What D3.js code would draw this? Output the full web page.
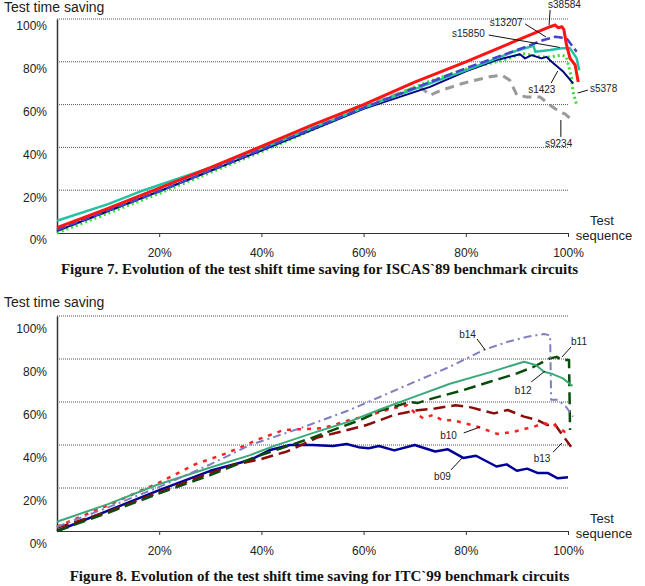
<!DOCTYPE html>
<html>
<head>
<meta charset="utf-8">
<script src="https://cdnjs.cloudflare.com/ajax/libs/d3/7.8.5/d3.min.js"></script>
<style>
  body { margin: 0; background: #fff; }
  text { font-family: Arial, "Liberation Sans", sans-serif; fill: #222; }
</style>
</head>
<body>
<div id="chart"></div>
<script>
var xTicks = [20, 40, 60, 80, 100]
var yTicks = [0, 20, 40, 60, 80, 100]

// Figure 7 - ISCAS'89 circuits, [test sequence %, saving %]
var s38584 = [[0,2.5],[10,11.5],[20,21],[30,30.5],[40,40.5],[50,50.5],[60,60],[70,70.5],[80,80],[90,90],[96.5,96.4],[97.5,97.2],[98.1,95.9],[98.8,96.4],[99.2,95],[99.7,88],[100.4,81.6],[101.4,78.5],[102,70.6]]
var s13207 = [[0,1.5],[20,19.5],[40,39],[60,58.5],[73,70.5],[80,77],[90,85.5],[92.6,87.8],[95.2,90.2],[97.5,91.7],[99.7,91],[100.7,87.8],[101.7,84.7]]
var s15850 = [[0,5.7],[10,13.5],[17,20],[30,30.5],[40,39.5],[50,49],[60,58.5],[73,69.9],[80,76],[89.3,84.7],[92.6,87],[93.2,87.8],[93.6,84.7],[96.5,85.5],[98.8,86.3],[100.4,86.3],[101.7,81.6],[102.2,76.1]]
var s1423 = [[0,1],[20,19.5],[40,38.5],[60,58],[73,68.3],[80,75.5],[86,80.8],[90.6,83.5],[91.6,81.6],[92.9,83.1],[94.8,81.6],[95.8,82.3],[96.8,80],[99.1,75.3],[101,69.9]]
var s5378 = [[0,0],[20,18.5],[40,38],[60,58.5],[73,71],[80,76.5],[87.3,80.8],[91.2,83.9],[94.5,82.3],[96.5,82.3],[98.8,83.1],[99.7,82.3],[100.7,72.2],[101,65.9],[101.7,59.7]]
var s9234 = [[0,1],[20,19.5],[40,39],[60,59],[70,68],[71.5,67.5],[73,64.3],[75,66.5],[79.5,70],[84.7,73],[87,73.8],[88.6,71.4],[90,64.4],[92,63.6],[94.5,63.6],[96.5,59.7],[98.4,56.6],[99.5,55.5],[100.4,53.5]]

// Figure 8 - ITC'99 circuits
var b09 = [[0,0],[10,9.5],[20,19],[30,28],[37.8,33],[41.7,37.7],[45.6,40],[50,40],[54,39.5],[56.7,40.5],[59,39],[61,38.5],[63,39.5],[66,37.5],[70,40],[74,37],[76.5,38],[79.5,34],[82,35],[86,30],[88,31],[90,28],[92,29],[94,27],[96,27],[98,24.5],[100,25]]
var b10 = [[0,2],[10,12],[20,22.5],[27,31],[33,36],[37,40],[39,42.3],[44.4,47],[52,47.8],[57.3,51.6],[60.6,53.5],[65.8,57.1],[68.5,58.5],[70,55],[71.7,52.4],[73.6,54],[75.3,51.6],[77.5,51.5],[80,50],[82.3,48.5],[86.2,45.1],[89.4,46.2],[93.3,48.5],[95.3,50.1],[97.3,49.3],[99.3,46.2],[100.2,47]]
var b11 = [[0,0],[10,8.5],[20,17.5],[30,26],[39,34.6],[49.5,43],[59.3,51.6],[63.3,56],[69.1,60],[70.5,59.5],[73.7,61.8],[79.6,65.6],[84.7,69.4],[90,73.3],[93.3,76.4],[96.5,80.3],[97.8,81],[98.8,79.5],[100.2,79.5],[100.4,47]]
var b12 = [[0,4.3],[10,12.5],[19.5,21.4],[30,29.5],[37.8,35.3],[42.4,39.5],[50,45.5],[57.3,51],[63.2,56.5],[70,62.5],[76.9,68.5],[85,74],[89,77],[91.4,78.7],[93.7,77.2],[95.3,74.1],[97,73],[99,71],[100.9,67.4]]
var b13 = [[0,1.5],[10,9],[20,18],[30,27],[35,31],[40,33.5],[45,37],[51,43.5],[56,46.5],[60.6,49.3],[66,54],[70,56],[74,57],[78,58.5],[81,57.5],[85.5,54.7],[88.2,56.3],[91.4,53.2],[94,51.6],[96,49.3],[97.3,50.1],[98.5,46],[100.6,39.2]]
var b14 = [[0,2],[10,11],[20,20.5],[30,31],[37.8,40],[47.6,47.8],[57.3,56.3],[67.1,66.4],[76.9,76.4],[83.5,84.2],[88.2,88],[92.1,90.4],[95.3,91.6],[96.5,91],[96.7,61],[98,61],[99.6,57.8],[101,53.2]]

// label text position and leader line, all in data units
var notes1 = [
  {t: "s38584", x: 96.1, y: 105.1, l: [96.5, 104.2, 96.3, 97.2]},
  {t: "s13207", x: 84.7, y: 96.7, l: [91.6, 97.7, 95.7, 91.6]},
  {t: "s15850", x: 77.3, y: 91.4, l: [84.5, 92.5, 98.4, 86.7]},
  {t: "s1423", x: 92.2, y: 65.2, l: [96.7, 70.1, 98, 75.7]},
  {t: "s5378", x: 104.3, y: 66.1, l: [103.9, 66.8, 101.9, 65.4]},
  {t: "s9234", x: 95.5, y: 40, l: [98.6, 52.8, 98.6, 44.9]}
]
var notes2 = [
  {t: "b14", x: 78.7, y: 90, l: [82.2, 89.3, 83.8, 84.2]},
  {t: "b11", x: 100.6, y: 86.7, l: [100.6, 85.6, 98.8, 80.9]},
  {t: "b12", x: 89.6, y: 63.5, l: [92.8, 69.3, 95.5, 74.4]},
  {t: "b10", x: 75, y: 43, l: [79.6, 45.6, 82.8, 48.4]},
  {t: "b13", x: 93.3, y: 31.9, l: [97.1, 36.7, 98.8, 40.9]},
  {t: "b09", x: 73.8, y: 23.5, l: [77.1, 28.4, 79.3, 34]}
]

var series1 = [
  {d: s9234, c: "#9a9a9a", w: 3, dash: "9,6"},
  {d: s5378, c: "#33e033", w: 3, dash: "2,3"},
  {d: s1423, c: "#000080", w: 2},
  {d: s15850, c: "#22c2a2", w: 2.5},
  {d: s13207, c: "#4444cc", w: 2.5, dash: "9,4"},
  {d: s38584, c: "#ff1414", w: 3}
]
var series2 = [
  {d: b09, c: "#000099", w: 2.5},
  {d: b13, c: "#8b0a0a", w: 2.5, dash: "12,6"},
  {d: b10, c: "#ff2020", w: 2.5, dash: "4,6"},
  {d: b11, c: "#0a4a0a", w: 2.5, dash: "12,6"},
  {d: b12, c: "#3aaa78", w: 2},
  {d: b14, c: "#7f7fc0", w: 2, dash: "8,4,2,4"}
]

var svg = d3.select("#chart")
  .append("svg")
    .attr("width", 645)
    .attr("height", 586)

drawChart(svg.append("g"), 19, 233, 12, series1, notes1, 7,
  "Figure 7. Evolution of the test shift time saving for ISCAS`89 benchmark circuits", 274)
drawChart(svg.append("g"), 316, 531, 307, series2, notes2, 13,
  "Figure 8. Evolution of the test shift time saving for ITC`99 benchmark circuits", 581)

function drawChart(g, top, bottom, titleY, series, notes, labelShift, caption, captionY) {
  var x = d3.scaleLinear().domain([0, 100]).range([57, 568])
  var y = d3.scaleLinear().domain([0, 100]).range([bottom, top])

  g.append("text")
    .attr("x", 4).attr("y", titleY)
    .style("font-size", "14px")
    .text("Test time saving")

  // dotted gridlines
  g.append("g")
    .selectAll("line")
    .data(yTicks.slice(1))
    .enter()
    .append("line")
      .attr("x1", x(0)).attr("x2", x(100))
      .attr("y1", function (d) { return y(d) })
      .attr("y2", function (d) { return y(d) })
      .attr("stroke", "#555")
      .attr("stroke-dasharray", "1,1")

  var xa = g.append("g")
    .attr("transform", "translate(0," + bottom + ")")
    .call(d3.axisBottom(x).tickValues(xTicks).tickFormat(function (d) { return d + "%" })
      .tickSize(4).tickSizeOuter(0).tickPadding(11))
  xa.attr("font-family", null).attr("font-size", 12).attr("color", "#333")
  xa.select(".domain").attr("stroke-width", 1.2)

  var ya = g.append("g")
    .attr("transform", "translate(" + x(0) + ",0)")
    .call(d3.axisLeft(y).tickValues(yTicks).tickFormat(function (d) { return d + "%" })
      .tickSize(0).tickPadding(10))
  ya.attr("font-family", null).attr("font-size", 12).attr("color", "#333")
  ya.select(".domain").attr("stroke-width", 1.5)
  ya.selectAll("text").attr("dy", (3.8 + labelShift) + "px")

  g.append("text")
    .attr("x", 602).attr("y", bottom - 8)
    .attr("text-anchor", "middle")
    .style("font-size", "13px")
    .text("Test")
  g.append("text")
    .attr("x", 604).attr("y", bottom + 7)
    .attr("text-anchor", "middle")
    .style("font-size", "13px")
    .text("sequence")

  var line = d3.line()
    .x(function (d) { return x(d[0]) })
    .y(function (d) { return y(d[1]) })

  g.append("g")
    .selectAll("path")
    .data(series)
    .enter()
    .append("path")
      .attr("d", function (s) { return line(s.d) })
      .attr("fill", "none")
      .attr("stroke", function (s) { return s.c })
      .attr("stroke-width", function (s) { return s.w })
      .attr("stroke-dasharray", function (s) { return s.dash || null })
      .attr("stroke-linejoin", "round")

  var n = g.append("g")
  n.selectAll("line")
    .data(notes)
    .enter()
    .append("line")
      .attr("x1", function (d) { return x(d.l[0]) })
      .attr("y1", function (d) { return y(d.l[1]) })
      .attr("x2", function (d) { return x(d.l[2]) })
      .attr("y2", function (d) { return y(d.l[3]) })
      .attr("stroke", "#111")
      .attr("stroke-width", 1)
  n.selectAll("text")
    .data(notes)
    .enter()
    .append("text")
      .attr("x", function (d) { return x(d.x) })
      .attr("y", function (d) { return y(d.y) })
      .style("font-size", "10px")
      .text(function (d) { return d.t })

  g.append("text")
    .attr("x", 319.5).attr("y", captionY)
    .attr("text-anchor", "middle")
    .style("font-family", "'Times New Roman', 'Liberation Serif', serif")
    .style("font-weight", "bold")
    .style("font-size", "15px")
    .style("fill", "#111")
    .text(caption)
}
</script>
</body>
</html>
